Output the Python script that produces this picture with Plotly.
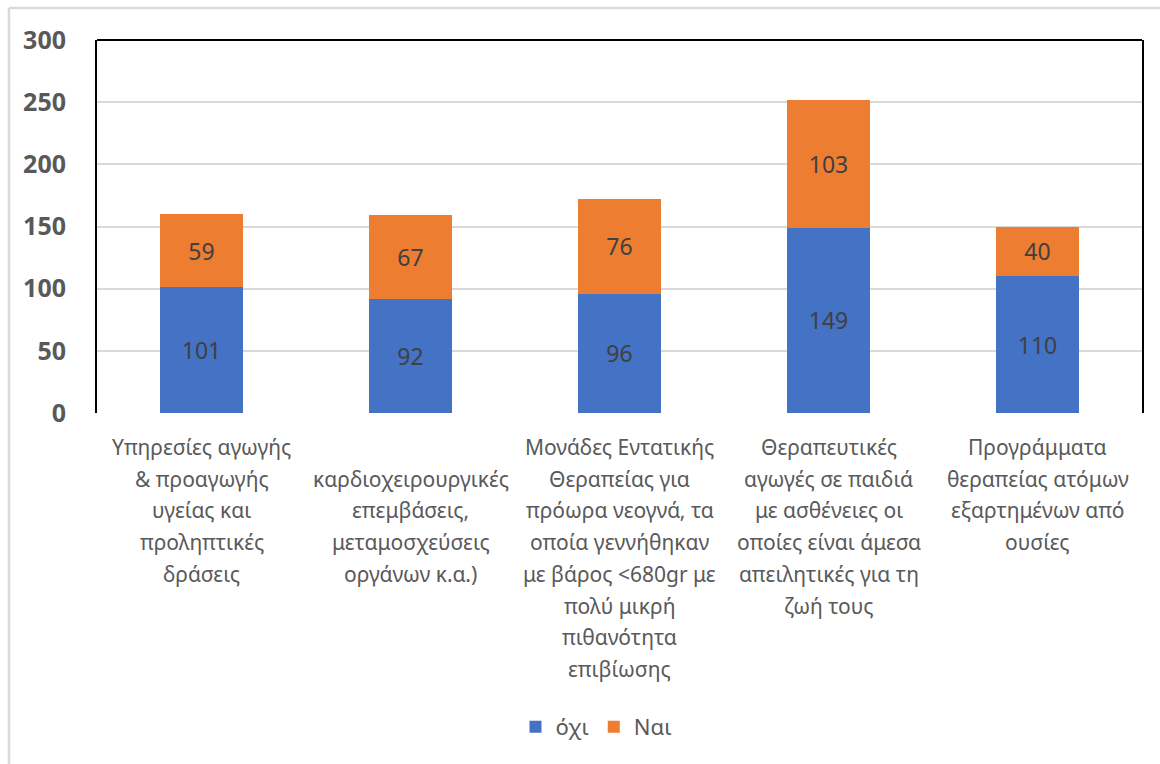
import plotly.graph_objects as go

# Category labels, one list of lines per category
label_lines = [
    ["Υπηρεσίες αγωγής", "& προαγωγής", "υγείας και", "προληπτικές", "δράσεις"],
    ["", "καρδιοχειρουργικές", "επεμβάσεις,", "μεταμοσχεύσεις", "οργάνων κ.α.)"],
    ["Μονάδες Εντατικής", "Θεραπείας για", "πρόωρα νεογνά, τα", "οποία γεννήθηκαν",
     "με βάρος <680gr με", "πολύ μικρή", "πιθανότητα", "επιβίωσης"],
    ["Θεραπευτικές", "αγωγές σε παιδιά", "με ασθένειες οι", "οποίες είναι άμεσα",
     "απειλητικές για τη", "ζωή τους"],
    ["Προγράμματα", "θεραπείας ατόμων", "εξαρτημένων από", "ουσίες"],
]
categories = [" ".join(l for l in lines if l) for lines in label_lines]

ochi = [101, 92, 96, 149, 110]
nai = [59, 67, 76, 103, 40]

y_ticks = [0, 50, 100, 150, 200, 250, 300]

FONT = "Noto Sans"
GRAY = "#595959"

fig = go.Figure()
fig.add_trace(go.Bar(
    name="όχι", x=categories, y=ochi, marker=dict(color="#4472C4", line=dict(width=0)),
    text=ochi, textposition="inside", insidetextanchor="middle",
    textfont=dict(family=FONT, size=23, color="#404040"),
))
fig.add_trace(go.Bar(
    name="Ναι", x=categories, y=nai, marker=dict(color="#ED7D31", line=dict(width=0)),
    text=nai, textposition="inside", insidetextanchor="middle",
    textfont=dict(family=FONT, size=23, color="#404040"),
))

# Multi-line category labels under the axis, with wider line spacing
PLOT_TOP, PLOT_BOTTOM = 40, 413
plot_h = PLOT_BOTTOM - PLOT_TOP
first_line_px = 447
line_gap_px = 31.7
annotations = []
for cat, lines in zip(categories, label_lines):
    for i, line in enumerate(lines):
        if not line:
            continue
        py = first_line_px + i * line_gap_px
        annotations.append(dict(
            x=cat, xref="x", y=(PLOT_BOTTOM - py) / plot_h, yref="paper",
            text=line.replace("<", "&lt;"), showarrow=False,
            xanchor="center", yanchor="middle",
            font=dict(family=FONT, size=21, color=GRAY),
        ))

plot_w = 1142 - 97
shapes = [
    # outer chart frame (left and top edges)
    dict(type="line", xref="paper", yref="paper",
         x0=(9 - 97) / plot_w, x1=(9 - 97) / plot_w,
         y0=(PLOT_BOTTOM - 800) / plot_h, y1=(PLOT_BOTTOM - 8) / plot_h,
         line=dict(color="#D9D9D9", width=2.5)),
    dict(type="line", xref="paper", yref="paper",
         x0=(9 - 97) / plot_w, x1=(1200 - 97) / plot_w,
         y0=(PLOT_BOTTOM - 8) / plot_h, y1=(PLOT_BOTTOM - 8) / plot_h,
         line=dict(color="#D9D9D9", width=2.5)),
    # plot area frame: top edge
    dict(type="line", xref="paper", yref="paper", x0=0, x1=1, y0=1, y1=1,
         line=dict(color="black", width=2)),
]

fig.update_layout(
    barmode="stack",
    bargap=0.6,
    width=1160, height=764,
    margin=dict(l=97, r=18, t=40, b=351),
    paper_bgcolor="white", plot_bgcolor="white",
    showlegend=True,
    legend=dict(orientation="h", x=(596 - 97) / plot_w, xanchor="center",
                y=(PLOT_BOTTOM - 727) / plot_h, yanchor="middle",
                font=dict(family=FONT, size=22, color=GRAY),
                itemwidth=30, traceorder="normal"),
    annotations=annotations,
    shapes=shapes,
    xaxis=dict(showticklabels=False, showgrid=False, showline=False, ticks=""),
    yaxis=dict(range=[0, 300], tickvals=y_ticks, ticktext=[str(v) for v in y_ticks],
               showgrid=True, gridcolor="#D9D9D9", gridwidth=1.5, zeroline=False,
               showline=True, linecolor="black", linewidth=2, mirror=True,
               ticks="", ticklabelstandoff=24,
               tickfont=dict(family=FONT, size=25, color=GRAY, weight="bold")),
    uniformtext=dict(mode=False),
)

fig.write_html("out.html")
